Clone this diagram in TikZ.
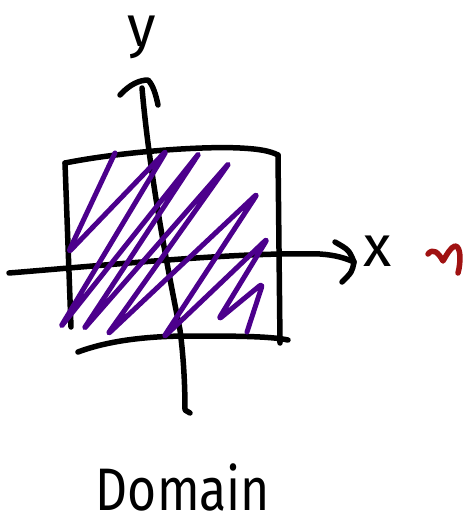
\documentclass[tikz,border=0pt]{standalone}
\usepackage{fontspec}
\setmainfont{Fira Sans}
\usepackage{xcolor}
\usepackage{tikz}
\definecolor{shadePurple}{RGB}{76,0,140}
\definecolor{noteRed}{RGB}{160,18,18}
\tikzset{
  ink/.style={line width=5.5pt, line cap=round, line join=round},
  shadeline/.style={ink, draw=shadePurple, line width=5pt, rounded corners=5pt},
  handlabel/.style={inner sep=0pt, font=\fontsize{58}{60}\selectfont}
}

\begin{document}
\begin{tikzpicture}[x=1pt,y=-1pt]
\useasboundingbox (0,0) rectangle (470,527);

% Axes
\coordinate (xstart) at (9,273);
\coordinate (xtip) at (354,262);
\coordinate (ytip) at (148,80);
\coordinate (ystart) at (142,88);
\coordinate (yend) at (185,410);
\draw[ink] (xstart) .. controls (120,264) and (240,252) .. (320,254) .. controls (335,255) and (345,258) .. (xtip);
\draw[ink] (335,242) .. controls (349,250) .. (xtip) .. controls (352,272) .. (342,282);
\draw[ink] (ystart) .. controls (150,180) and (170,280) .. (180,330) .. controls (184,360) and (185,390) .. (yend) -- (190,413);
\draw[ink] (120,95) .. controls (130,84) and (140,80) .. (ytip) .. controls (153,85) and (156,95) .. (158,105);

% Box
\coordinate (tl) at (65,163);
\coordinate (tr) at (278,155);
\draw[ink] (tl) .. controls (120,152) and (200,146) .. (240,148) .. controls (260,149) and (270,151) .. (tr);
\draw[ink] (tl) -- (71,327);
\draw[ink] (tr) -- (280,343);
\draw[ink] (78,352) .. controls (110,340) and (150,336) .. (190,336) .. controls (230,336) and (270,336) .. (288,340);

% Shading
\draw[shadeline] (115,153) -- (68,253) -- (167,150) -- (60,328) -- (200,152) -- (83,330)
  -- (230,162) -- (107,335) -- (258,193) -- (163,338) -- (268,238) -- (218,320)
  -- (263,283) -- (247,332);

% Labels
\node[handlabel] (ylabel) at (142,37) {y};
\node[handlabel] (xlabel) at (378,251) {x};
\node[handlabel, font=\fontsize{60}{62}\selectfont] (domain) at (183,487) {\scalebox{0.83}[1]{Domain}};

% Stray mark
\draw[ink, draw=noteRed, line width=5.5pt] (428,254) .. controls (433,248) and (438,252) .. (443,261)
  .. controls (447,254) and (451,247) .. (455,246) .. controls (461,246) and (461,262) .. (458,273);
\end{tikzpicture}
\end{document}
